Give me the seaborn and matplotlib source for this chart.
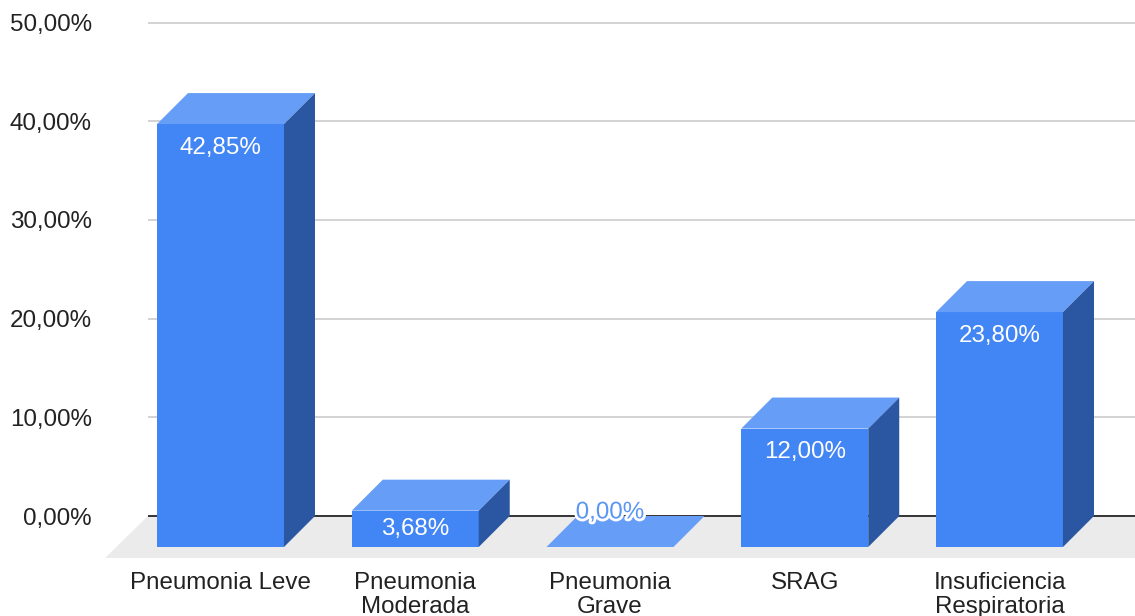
import matplotlib
matplotlib.use("Agg")
import matplotlib.pyplot as plt
import matplotlib.patheffects as pe
from matplotlib.patches import Polygon
import seaborn as sns
import pandas as pd

# Data
categories = ["Pneumonia Leve", "Pneumonia\nModerada", "Pneumonia\nGrave",
              "SRAG", "Insuficiencia\nRespiratoria"]
values = [42.85, 3.68, 0.00, 12.00, 23.80]
y_ticks = [0, 10, 20, 30, 40, 50]


def pct(v):
    return f"{v:.2f}".replace(".", ",") + "%"


sns.set_theme(style="white")
plt.rcParams["font.family"] = ["Liberation Sans", "DejaVu Sans"]

FRONT = "#4285F4"
TOP = "#669DF6"
SIDE = "#2B56A1"
FLOOR = "#EBEBEB"
GRID = "#CCCCCC"
TEXT = "#222222"
FS = 17.4

W, H = 1135, 616
fig = plt.figure(figsize=(W / 100, H / 100), dpi=100)
ax = fig.add_axes([100 / W, 56 / H, 1035 / W, 560 / H])

# pixel scale of the drawing: one category step and one percent point
PX_X, PX_Y = 194.75, 9.87
X0_PX, Y0_PX = 220.5, 547
XMIN = (100 - X0_PX) / PX_X
XMAX = (W - X0_PX) / PX_X
YMIN = (Y0_PX - 560) / PX_Y
YMAX = Y0_PX / PX_Y

# 3D depth offset (right and up) in data units
DX = 31 / PX_X
DY = 31 / PX_Y

df = pd.DataFrame({"categoria": categories, "valor": values})
sns.barplot(data=df, x="categoria", y="valor", color=FRONT, saturation=1,
            width=0.652, linewidth=0, ax=ax, zorder=3)

# top and side faces of every bar
for patch, v in zip(ax.patches, values):
    x = patch.get_x()
    w = patch.get_width()
    h = patch.get_height()
    top = Polygon([(x, h), (x + w, h), (x + w + DX, h + DY), (x + DX, h + DY)],
                  closed=True, facecolor=TOP, edgecolor="none", zorder=3)
    ax.add_patch(top)
    if h > 0:
        side = Polygon([(x + w, 0), (x + w + DX, DY), (x + w + DX, h + DY), (x + w, h)],
                       closed=True, facecolor=SIDE, edgecolor="none", zorder=3)
        ax.add_patch(side)

# floor of the chart
floor_front_y = (Y0_PX - 558) / PX_Y
floor_left = (105 - X0_PX) / PX_X
wall_left = (148 - X0_PX) / PX_X
ax.add_patch(Polygon([(floor_left, floor_front_y), (wall_left, DY),
                      (XMAX + 1, DY), (XMAX + 1, floor_front_y)],
                     closed=True, facecolor=FLOOR, edgecolor="none", zorder=0))

# gridlines on the back wall and the baseline
ax.hlines([DY + t for t in y_ticks[1:]], wall_left, XMAX, colors=GRID,
          linewidth=1.2, zorder=1)
ax.hlines([DY], wall_left, XMAX, colors="#333333", linewidth=1.4, zorder=1.5)

# value labels
for i, v in enumerate(values):
    if v > 0:
        y = max(v - 2.4, v / 2)
        ax.text(i, y, pct(v), ha="center", va="center", color="white",
                fontsize=FS, zorder=5)
    else:
        ax.text(i, 3.5, pct(v), ha="center", va="center", color="#5A95F5",
                fontsize=FS, zorder=5,
                path_effects=[pe.withStroke(linewidth=4, foreground="white")])

ax.set_xlim(XMIN, XMAX)
ax.set_ylim(YMIN, YMAX)
ax.set_yticks([DY + t for t in y_ticks], [pct(t) for t in y_ticks])
ax.set_xticks(range(len(categories)), categories)
ax.tick_params(axis="y", length=0, labelsize=FS, colors=TEXT, pad=5.8)
ax.tick_params(axis="x", length=0, labelsize=FS, colors=TEXT, pad=8.8)
for lab in ax.get_xticklabels():
    lab.set_linespacing(1.08)
ax.set_xlabel("")
ax.set_ylabel("")
for s in ax.spines.values():
    s.set_visible(False)
ax.patch.set_alpha(0)

fig.savefig("out.png", dpi=100)
